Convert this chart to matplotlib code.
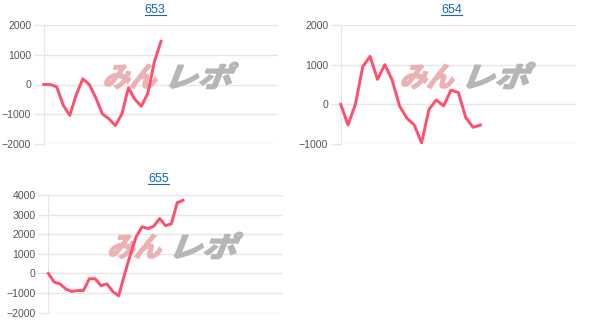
import numpy as np
import matplotlib
matplotlib.use("Agg")
import matplotlib.pyplot as plt
from matplotlib.lines import Line2D
from matplotlib.textpath import TextPath
from matplotlib.patches import PathPatch
from matplotlib.font_manager import FontProperties
from matplotlib.transforms import Affine2D, IdentityTransform

## data (one value per game step)
titles = ["653", "654", "655"]
vals_653 = [0, 0, -80, -700, -1040, -340, 190, 0, -450, -990, -1150, -1380,
            -990, -110, -500, -730, -280, 780, 1450]
vals_654 = [0, -520, 0, 950, 1210, 630, 1000, 610, -40, -350, -520, -970,
            -130, 110, -40, 360, 300, -330, -580, -520]
vals_655 = [0, -440, -530, -790, -920, -870, -870, -270, -270, -630, -530, -920,
            -1140, -60, 960, 1880, 2380, 2290, 2410, 2800, 2440, 2530, 3610, 3730]
yticks_653 = [-2000, -1000, 0, 1000, 2000]
yticks_654 = [-1000, 0, 1000, 2000]
yticks_655 = [-2000, -1000, 0, 1000, 2000, 3000, 4000]
xmax = [36, 32, 40]

line_col = "#ff4f6d"
grid_col = "#e6e6e6"
link_col = "#1565c0"
plt.rcParams["font.family"] = ["Liberation Sans", "DejaVu Sans"]

W, H = 603, 333
fig = plt.figure(figsize=(W / 100, H / 100), dpi=100)

# axes boxes in pixels: left, right, top, bottom
boxes = [(43.7, 278.3, 25, 144), (340.7, 576, 25, 144), (48.3, 282.7, 195, 312.7)]
title_pos = [(155, 10), (451.7, 10), (158.5, 179)]
series = [vals_653, vals_654, vals_655]
ticks = [yticks_653, yticks_654, yticks_655]

jp = FontProperties(family="Noto Sans CJK JP", weight="bold")


def stamp(ax, text, x0, x1, ytop, ybot, color):
    # slanted logo-like text fitted into a pixel box
    tp = TextPath((0, 0), text, size=30, prop=jp)
    tp = Affine2D().skew_deg(18, 0).transform_path(tp)
    ext = tp.get_extents()
    sx = (x1 - x0) / ext.width
    sy = (ybot - ytop) / ext.height
    tr = (Affine2D().translate(-ext.x0, -ext.y0).scale(sx, sy)
          .translate(x0, H - ybot))
    ax.add_patch(PathPatch(tr.transform_path(tp), fc=color, ec=color, lw=1.3,
                           transform=IdentityTransform(), zorder=1, clip_on=False))


for i in range(3):
    l, r, t, b = boxes[i]
    ax = fig.add_axes([l / W, 1 - b / H, (r - l) / W, (b - t) / H])
    y = series[i]
    ax.plot(np.arange(len(y)), y, color=line_col, lw=2.1, zorder=3,
            solid_joinstyle="round", clip_on=False)
    ax.set_xlim(0, xmax[i])
    ax.set_ylim(ticks[i][0], ticks[i][-1])
    ax.set_yticks(ticks[i])
    ax.set_xticks([])
    ax.grid(axis="y", color=grid_col, lw=1)
    ax.set_axisbelow(True)
    for s in ["top", "right", "bottom"]:
        ax.spines[s].set_visible(False)
    ax.spines["left"].set_color(grid_col)
    ax.tick_params(axis="y", length=7, width=1, color=grid_col, pad=2,
                   labelsize=7.6, labelcolor="#555555")

    # watermark, placed relative to the axes top-left corner
    cx, cy = l + 127.8, t + 51.5
    stamp(ax, "みん", cx - 66.5, cx - 14.5, cy - 12, cy + 12, "#ebb2b4")
    stamp(ax, "レポ", cx - 1.5, cx + 66.5, cy - 14, cy + 12, "#b6b6b6")

    # underlined link title
    tx, ty = title_pos[i]
    fig.text(tx / W, 1 - ty / H, titles[i], ha="center", va="center",
             fontsize=9, color=link_col)
    fig.add_artist(Line2D([(tx - 10.5) / W, (tx + 10.5) / W],
                          [1 - (ty + 5) / H, 1 - (ty + 5) / H],
                          color=link_col, lw=0.8))

fig.savefig("out.png", dpi=100)
